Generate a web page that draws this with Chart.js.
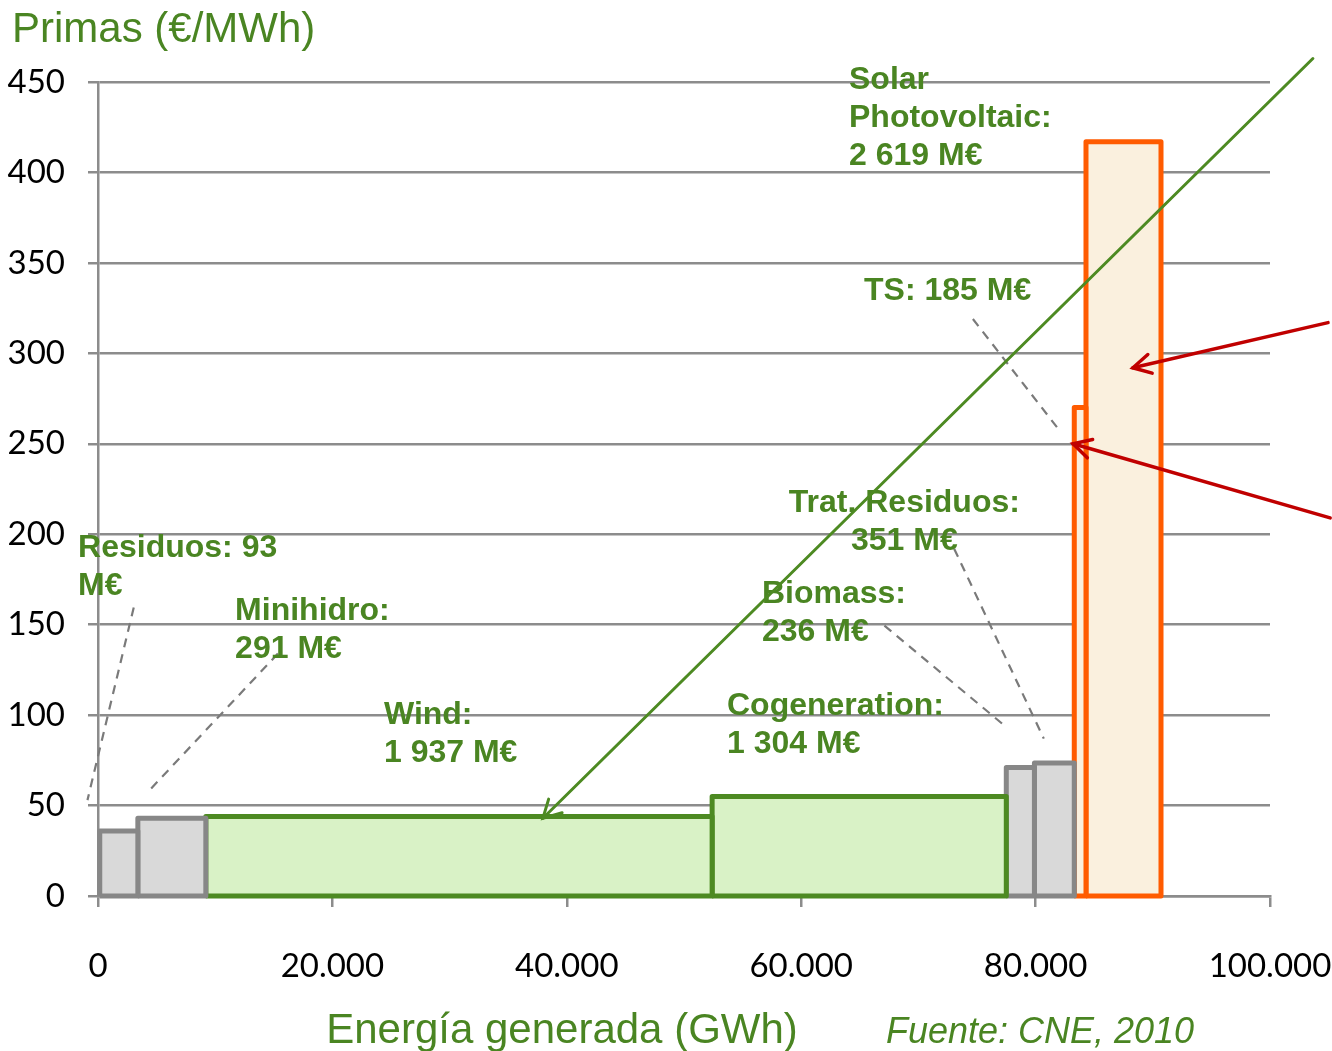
<!DOCTYPE html>
<html>
<head>
<meta charset="utf-8">
<script src="https://cdn.jsdelivr.net/npm/chart.js@4.4.0/dist/chart.umd.min.js"></script>
<style>
  html, body { margin: 0; padding: 0; background: #fff; }
  #wrap { width: 1332px; height: 1051px; }
</style>
</head>
<body>
<div id="wrap"><canvas id="myChart" width="1332" height="1051"></canvas></div>
<script>
// technologies ordered along the x axis (merit order)
const techs = ['Residuos', 'Minihidro', 'Wind', 'Cogeneration', 'Biomass', 'Trat. Residuos', 'TS', 'Solar Photovoltaic'];
// energy generated, cumulative start / end (GWh)
const energyStart = [150, 3400, 9200, 52400, 77500, 79900, 83300, 84300];
const energyEnd   = [3400, 9200, 52400, 77500, 79900, 83300, 84300, 90700];
// premium (€/MWh)
const primas = [36, 43, 44, 55, 71, 73.5, 270, 417];
const groups = ['grey', 'grey', 'green', 'green', 'grey', 'grey', 'orange', 'orange'];

const xTicks = [0, 20000, 40000, 60000, 80000, 100000];
const yTicks = [0, 50, 100, 150, 200, 250, 300, 350, 400, 450];

// callout labels, anchored in data units (x GWh, y €/MWh of first line)
const labelLines = [
  ['Residuos: 93', 'M€'],
  ['Minihidro:', '291 M€'],
  ['Wind:', '1 937 M€'],
  ['Cogeneration:', '1 304 M€'],
  ['Biomass:', '236 M€'],
  ['Trat. Residuos:', '351 M€'],
  ['TS: 185 M€'],
  ['Solar', 'Photovoltaic:', '2 619 M€']
];
const labelX = [-1700, 11700, 24400, 53670, 56650, 68800, 65360, 64080];
const labelY = [192.4, 157.6, 100.1, 105.0, 167.0, 217.3, 334.5, 451.1];
const labelAlign = ['left', 'left', 'left', 'left', 'left', 'center', 'left', 'left'];

// dashed leader lines [x1, y1, x2, y2]
const leaders = [
  [3050, 159.5, -900, 53],
  [15350, 134, 4180, 57],
  [67100, 149.5, 77200, 95],
  [73050, 192, 80700, 87],
  [74650, 319, 81900, 258.5]
];
// arrows [xFrom, yFrom, xTo, yTo]
const greenArrow = [103660, 463, 37960, 43];
const redArrows = [
  [104950, 317, 88300, 292],
  [105130, 209, 83200, 250]
];

const colors = {
  grey:   { border: '#878787', fill: '#d9d9d9' },
  green:  { border: '#4d8a22', fill: '#d9f2c6' },
  orange: { border: '#ff5b00', fill: '#faf0de' }
};
const textGreen = '#4a8522';

const datasets = techs.map((t, i) => {
  const c = colors[groups[i]];
  return {
    label: t,
    data: [
      { x: energyStart[i], y: 0 },
      { x: energyStart[i], y: primas[i] },
      { x: energyEnd[i], y: primas[i] },
      { x: energyEnd[i], y: 0 },
      { x: energyStart[i], y: 0 }
    ],
    showLine: true,
    fill: 'shape',
    clip: false,
    backgroundColor: c.fill,
    borderColor: c.border,
    borderWidth: 5,
    borderJoinStyle: 'round',
    pointRadius: 0,
    tension: 0
  };
});

function arrowHead(ctx, x1, y1, x2, y2, len) {
  const a = Math.atan2(y2 - y1, x2 - x1);
  ctx.beginPath();
  ctx.moveTo(x2 - len * Math.cos(a - 0.5), y2 - len * Math.sin(a - 0.5));
  ctx.lineTo(x2, y2);
  ctx.lineTo(x2 - len * Math.cos(a + 0.5), y2 - len * Math.sin(a + 0.5));
  ctx.stroke();
}

const annotations = {
  id: 'annotations',
  afterDatasetsDraw(chart) {
    const ctx = chart.ctx;
    const xs = chart.scales.x, ys = chart.scales.y;
    const px = v => xs.getPixelForValue(v);
    const py = v => ys.getPixelForValue(v);
    ctx.save();

    // leaders
    ctx.strokeStyle = '#7a7a7a';
    ctx.lineWidth = 2.2;
    ctx.setLineDash([9, 7]);
    leaders.forEach(l => {
      ctx.beginPath();
      ctx.moveTo(px(l[0]), py(l[1]));
      ctx.lineTo(px(l[2]), py(l[3]));
      ctx.stroke();
    });
    ctx.setLineDash([]);

    // labels
    ctx.fillStyle = textGreen;
    ctx.font = 'bold 32px "Liberation Sans", Arial, sans-serif';
    ctx.textBaseline = 'middle';
    labelLines.forEach((lines, i) => {
      ctx.textAlign = labelAlign[i];
      lines.forEach((s, j) => {
        ctx.fillText(s, px(labelX[i]), py(labelY[i]) + j * 38);
      });
    });

    // green arrow
    ctx.strokeStyle = '#4d8a22';
    ctx.lineWidth = 3;
    ctx.lineCap = 'round';
    let g = greenArrow;
    ctx.beginPath();
    ctx.moveTo(px(g[0]), py(g[1]));
    ctx.lineTo(px(g[2]), py(g[3]));
    ctx.stroke();
    arrowHead(ctx, px(g[0]), py(g[1]), px(g[2]), py(g[3]), 20);

    // red arrows
    ctx.strokeStyle = '#c00000';
    ctx.lineWidth = 3.5;
    redArrows.forEach(r => {
      ctx.beginPath();
      ctx.moveTo(px(r[0]), py(r[1]));
      ctx.lineTo(px(r[2]), py(r[3]));
      ctx.stroke();
      arrowHead(ctx, px(r[0]), py(r[1]), px(r[2]), py(r[3]), 20);
    });

    // titles
    ctx.fillStyle = textGreen;
    ctx.textAlign = 'left';
    ctx.textBaseline = 'alphabetic';
    ctx.font = '42px "Liberation Sans", Arial, sans-serif';
    ctx.fillText('Primas (€/MWh)', 12, 42);
    ctx.textAlign = 'center';
    ctx.fillText('Energía generada (GWh)', 562, 1043);
    ctx.font = 'italic 36px "Liberation Sans", Arial, sans-serif';
    ctx.fillText('Fuente: CNE, 2010', 1040, 1043);
    ctx.restore();
  }
};

new Chart('myChart', {
  type: 'scatter',
  data: { datasets },
  options: {
    responsive: false,
    animation: false,
    layout: { padding: { top: 82, right: 62, left: 0, bottom: 0 } },
    plugins: { legend: { display: false }, tooltip: { enabled: false } },
    scales: {
      x: {
        type: 'linear',
        min: 0,
        max: 100000,
        afterBuildTicks: s => { s.ticks = xTicks.map(v => ({ value: v })); },
        afterFit: s => { s.height = 155; s.paddingLeft = 0; s.paddingRight = 0; },
        grid: { drawOnChartArea: false, drawTicks: true, tickLength: 11, color: '#8c8c8c', lineWidth: 2.5 },
        border: { display: true, color: '#8c8c8c', width: 2.5 },
        ticks: {
          color: '#000',
          padding: 40,
          maxRotation: 0,
          font: { family: 'Lato', size: 33 },
          callback: v => v === 0 ? '0' : (v / 1000).toFixed(0) + '.000'
        }
      },
      y: {
        min: 0,
        max: 450,
        afterBuildTicks: s => { s.ticks = yTicks.map(v => ({ value: v })); },
        afterFit: s => { s.width = 98; s.paddingTop = 0; s.paddingBottom = 0; },
        grid: { color: '#8c8c8c', lineWidth: 2.5, tickLength: 10, drawTicks: true },
        border: { display: true, color: '#8c8c8c', width: 2.5 },
        ticks: {
          color: '#000',
          padding: 23,
          font: { family: 'Lato', size: 33 }
        }
      }
    }
  },
  plugins: [annotations]
});
</script>
</body>
</html>
